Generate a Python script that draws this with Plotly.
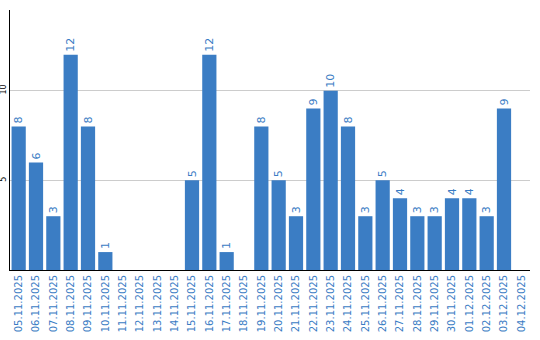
import plotly.graph_objects as go

dates = ["05.11.2025","06.11.2025","07.11.2025","08.11.2025","09.11.2025","10.11.2025",
         "11.11.2025","12.11.2025","13.11.2025","14.11.2025","15.11.2025","16.11.2025",
         "17.11.2025","18.11.2025","19.11.2025","20.11.2025","21.11.2025","22.11.2025",
         "23.11.2025","24.11.2025","25.11.2025","26.11.2025","27.11.2025","28.11.2025",
         "29.11.2025","30.11.2025","01.12.2025","02.12.2025","03.12.2025","04.12.2025"]
values = [8,6,3,12,8,1,0,0,0,0,5,12,1,0,8,5,3,9,10,8,3,5,4,3,3,4,4,3,9,0]
y_ticks = [5, 10]

bar_color = "#3b7dc4"
text_color = "#3a7cc4"

fig = go.Figure(go.Bar(
    x=dates, y=values,
    text=[str(v) if v else "" for v in values],
    textposition="outside", textangle=-90,
    textfont=dict(color=text_color, size=11, family="DejaVu Sans"),
    marker=dict(color=bar_color, line=dict(width=0)),
    cliponaxis=False,
))
fig.update_layout(
    width=540, height=340,
    margin=dict(l=10, r=10, t=10, b=70),
    plot_bgcolor="white", paper_bgcolor="white",
    bargap=0.18, showlegend=False,
)
fig.update_xaxes(
    tickangle=-90, tickfont=dict(color=text_color, size=10, family="DejaVu Sans"),
    showline=True, linecolor="black", linewidth=1, showgrid=False, ticks="",
    automargin=False,
)
fig.update_yaxes(
    range=[0, 14.5], tickvals=y_ticks, tickangle=-90,
    tickfont=dict(color="black", size=8, family="DejaVu Sans"),
    showline=True, linecolor="black", linewidth=1,
    showgrid=True, gridcolor="#cccccc", zeroline=False, ticks="",
    automargin=False, ticklabelstandoff=0,
)
fig.write_html("out.html")
